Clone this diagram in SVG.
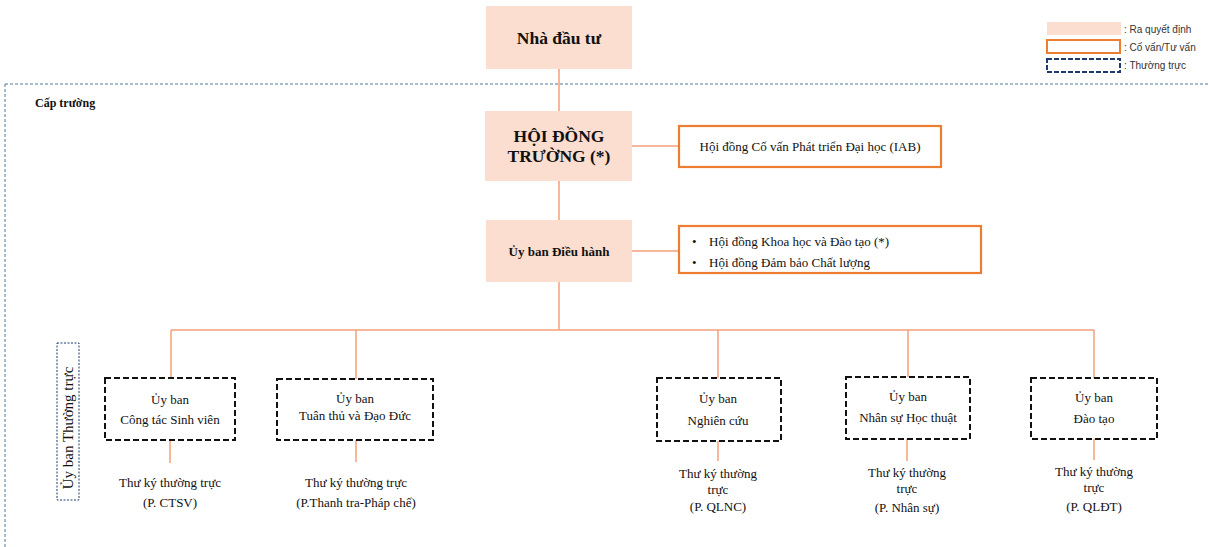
<svg xmlns="http://www.w3.org/2000/svg" width="1209" height="547" viewBox="0 0 1209 547">
<style>
.dec{fill:#FBDED0;stroke:none}
.adv{fill:#fff;stroke:#ED7D31;stroke-width:2.2}
.com{fill:#fff;stroke:#111;stroke-width:2;stroke-dasharray:6 3}
.con{stroke:#F4A07A;stroke-width:1.5;fill:none}
text{font-family:"Liberation Serif","Times New Roman",serif;fill:#111}
.b{font-weight:bold}
.c{text-anchor:middle}
.t{font-size:13px}
.leg{font-family:"Liberation Sans",Arial,sans-serif;font-size:10px;fill:#333}
</style>
<rect width="1209" height="547" fill="#fff"/>
<path d="M5,84 H1209 M5,84 V547" fill="none" stroke="#4F7A9A" stroke-width="1" stroke-dasharray="3 2"/>
<text x="35" y="107" class="b" font-size="12">Cấp trường</text>
<g id="legend">
<rect x="1047" y="22" width="74" height="13" class="dec"/>
<text x="1124" y="33" class="leg">: Ra quyết định</text>
<rect x="1047" y="40" width="73" height="13" fill="#fff" stroke="#ED7D31" stroke-width="2"/>
<text x="1124" y="51" class="leg">: Cố vấn/Tư vấn</text>
<rect x="1047" y="59" width="73" height="13" fill="#fff" stroke="#1F3A6E" stroke-width="2" stroke-dasharray="5 2"/>
<text x="1124" y="69" class="leg">: Thường trực</text>
</g>
<g id="connectors">
<path class="con" d="M559,69 V111 M559,181 V220 M559,282 V330 M632,146 H679 M632,251 H679"/>
<path class="con" d="M171,330 H1094 M171,330 V378 M356,330 V379 M718,330 V378 M908,330 V377 M1094,330 V378"/>
<path class="con" d="M170,440 V463 M356,440 V462 M718,441 V461 M907,439 V461 M1094,439 V460"/>
</g>
<g id="n-investor">
<rect x="486" y="6" width="146" height="63" class="dec"/>
<text x="559" y="44" class="b c" font-size="17.5">Nhà đầu tư</text>
</g>
<g id="n-council">
<rect x="485" y="111" width="147" height="70" class="dec"/>
<text x="559" y="142" class="b c" font-size="17.5">HỘI ĐỒNG</text>
<text x="559" y="162" class="b c" font-size="17.5">TRƯỜNG (*)</text>
</g>
<g id="n-iab">
<rect x="679" y="126" width="262" height="41" class="adv"/>
<text x="810" y="151" class="c t">Hội đồng Cố vấn Phát triển Đại học (IAB)</text>
</g>
<g id="n-exec">
<rect x="486" y="220" width="146" height="62" class="dec"/>
<text x="559" y="256" class="b c" font-size="13">Ủy ban Điều hành</text>
</g>
<g id="n-advisory2">
<rect x="679" y="226" width="302" height="47" class="adv"/>
<text x="692" y="246" class="t">•</text>
<text x="709" y="246" class="t">Hội đồng Khoa học và Đào tạo (*)</text>
<text x="692" y="267" class="t">•</text>
<text x="709" y="267" class="t">Hội đồng Đảm bảo Chất lượng</text>
</g>
<g id="n-standing">
<rect x="57" y="343" width="22" height="157" fill="#fff" stroke="#1F3A6E" stroke-width="1" stroke-dasharray="2 1.5"/>
<text transform="translate(73,428) rotate(-90)" class="c" font-size="15">Ủy ban Thường trực</text>
</g>
<g id="n-ctsv">
<rect x="105" y="378" width="130" height="62" class="com"/>
<text x="170" y="404" class="c t">Ủy ban</text>
<text x="170" y="424" class="c t">Công tác Sinh viên</text>
<text x="170" y="487" class="c t">Thư ký thường trực</text>
<text x="170" y="507" class="c t">(P. CTSV)</text>
</g>
<g id="n-ethics">
<rect x="277" y="379" width="156" height="61" class="com"/>
<text x="355" y="403" class="c t">Ủy ban</text>
<text x="355" y="420" class="c t">Tuân thủ và Đạo Đức</text>
<text x="356" y="487" class="c t">Thư ký thường trực</text>
<text x="356" y="507" class="c t">(P.Thanh tra-Pháp chế)</text>
</g>
<g id="n-research">
<rect x="657" y="378" width="124" height="63" class="com"/>
<text x="718" y="403" class="c t">Ủy ban</text>
<text x="718" y="425" class="c t">Nghiên cứu</text>
<text x="718" y="478" class="c t">Thư ký thường</text>
<text x="718" y="494" class="c t">trực</text>
<text x="718" y="511" class="c t">(P. QLNC)</text>
</g>
<g id="n-hr">
<rect x="846" y="377" width="124" height="62" class="com"/>
<text x="908" y="401" class="c t">Ủy ban</text>
<text x="908" y="422" class="c t">Nhân sự Học thuật</text>
<text x="907" y="477" class="c t">Thư ký thường</text>
<text x="907" y="493" class="c t">trực</text>
<text x="907" y="512" class="c t">(P. Nhân sự)</text>
</g>
<g id="n-training">
<rect x="1031" y="378" width="126" height="61" class="com"/>
<text x="1094" y="402" class="c t">Ủy ban</text>
<text x="1094" y="423" class="c t">Đào tạo</text>
<text x="1094" y="476" class="c t">Thư ký thường</text>
<text x="1094" y="492" class="c t">trực</text>
<text x="1094" y="511" class="c t">(P. QLĐT)</text>
</g>
</svg>
